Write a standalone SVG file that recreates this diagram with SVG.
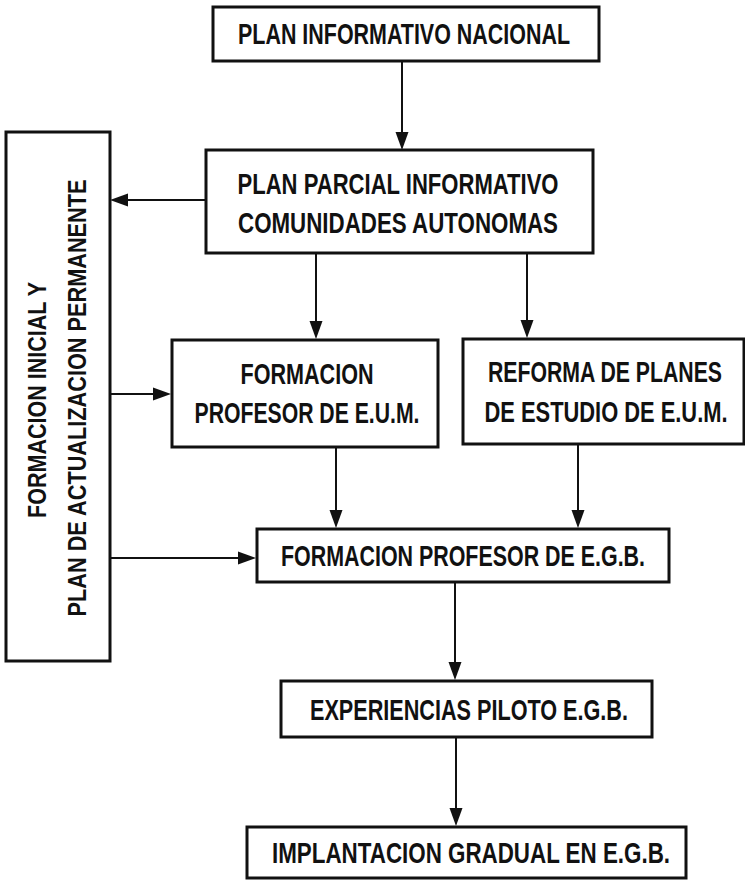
<svg xmlns="http://www.w3.org/2000/svg" width="745" height="881" viewBox="0 0 745 881">
<defs>
<style>
.box{fill:#fff;stroke:#111;stroke-width:3}
.t{font-family:"Liberation Sans",Arial,sans-serif;font-weight:bold;font-size:20px;fill:#111;text-anchor:middle}
.v{font-family:"Liberation Sans",Arial,sans-serif;font-weight:bold;font-size:21px;fill:#111;text-anchor:middle}
.c{fill:none;stroke:#111;stroke-width:2;marker-end:url(#ah)}
</style>
<marker id="ah" markerUnits="userSpaceOnUse" markerWidth="20" markerHeight="16" refX="6" refY="8" orient="auto">
<path d="M0,1.5 L18,8 L0,14.5 z" fill="#111"/>
</marker>
</defs>
<rect width="745" height="881" fill="#fff"/>
<g id="connectors">
<line class="c" x1="402" y1="61" x2="402" y2="138"/>
<line class="c" x1="206" y1="200" x2="122" y2="200"/>
<line class="c" x1="316" y1="253" x2="316" y2="327"/>
<line class="c" x1="527" y1="253" x2="527" y2="326"/>
<line class="c" x1="110" y1="394" x2="159" y2="394"/>
<line class="c" x1="336" y1="447" x2="336" y2="516"/>
<line class="c" x1="578" y1="444" x2="578" y2="516"/>
<line class="c" x1="110" y1="558" x2="244" y2="558"/>
<line class="c" x1="455" y1="582" x2="455" y2="668"/>
<line class="c" x1="456" y1="737" x2="456" y2="814"/>
</g>
<g id="n-plan-nacional">
<rect class="box" x="213" y="7" width="386" height="54"/>
<text class="t" transform="translate(404,44) scale(1,1.45)" textLength="332" lengthAdjust="spacingAndGlyphs">PLAN INFORMATIVO NACIONAL</text>
</g>
<g id="n-plan-parcial">
<rect class="box" x="206" y="150" width="387" height="103"/>
<text class="t" transform="translate(398,194) scale(1,1.45)" textLength="321" lengthAdjust="spacingAndGlyphs">PLAN PARCIAL INFORMATIVO</text>
<text class="t" transform="translate(398,233) scale(1,1.45)" textLength="320" lengthAdjust="spacingAndGlyphs">COMUNIDADES AUTONOMAS</text>
</g>
<g id="n-formacion-inicial">
<rect class="box" x="6" y="132" width="104" height="529"/>
<text class="v" transform="translate(46,400) rotate(-90) scale(1,1.2)" textLength="236" lengthAdjust="spacingAndGlyphs">FORMACION INICIAL Y</text>
<text class="v" transform="translate(86,398) rotate(-90) scale(1,1.2)" textLength="437" lengthAdjust="spacingAndGlyphs">PLAN DE ACTUALIZACION PERMANENTE</text>
</g>
<g id="n-formacion-eum">
<rect class="box" x="172" y="340" width="266" height="107"/>
<text class="t" transform="translate(307,384) scale(1,1.45)" textLength="133" lengthAdjust="spacingAndGlyphs">FORMACION</text>
<text class="t" transform="translate(307,423) scale(1,1.45)" textLength="225" lengthAdjust="spacingAndGlyphs">PROFESOR DE E.U.M.</text>
</g>
<g id="n-reforma">
<rect class="box" x="463" y="339" width="281" height="105"/>
<text class="t" transform="translate(605,382) scale(1,1.45)" textLength="234" lengthAdjust="spacingAndGlyphs">REFORMA DE PLANES</text>
<text class="t" transform="translate(606,422) scale(1,1.45)" textLength="243" lengthAdjust="spacingAndGlyphs">DE ESTUDIO DE E.U.M.</text>
</g>
<g id="n-formacion-egb">
<rect class="box" x="257" y="529" width="412" height="53"/>
<text class="t" transform="translate(463,566) scale(1,1.45)" textLength="364" lengthAdjust="spacingAndGlyphs">FORMACION PROFESOR DE E.G.B.</text>
</g>
<g id="n-experiencias">
<rect class="box" x="281" y="681" width="371" height="56"/>
<text class="t" transform="translate(469,720) scale(1,1.45)" textLength="318" lengthAdjust="spacingAndGlyphs">EXPERIENCIAS PILOTO E.G.B.</text>
</g>
<g id="n-implantacion">
<rect class="box" x="247" y="827" width="439" height="51"/>
<text class="t" transform="translate(471,863) scale(1,1.45)" textLength="398" lengthAdjust="spacingAndGlyphs">IMPLANTACION GRADUAL EN E.G.B.</text>
</g>
</svg>
